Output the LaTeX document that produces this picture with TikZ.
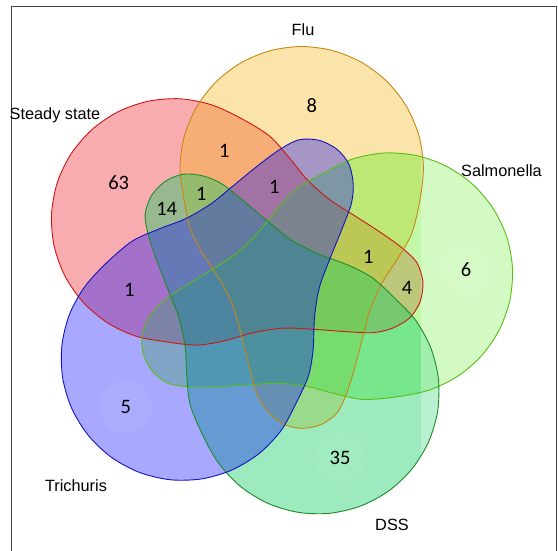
\documentclass[tikz,border=0pt]{standalone}
\usepackage{fontspec}
\setmainfont{Liberation Sans}
\newfontfamily\numfont{Carlito}
\definecolor{ssfill}{RGB}{240,20,30}
\definecolor{ssline}{RGB}{210,20,20}
\definecolor{flufill}{RGB}{245,180,10}
\definecolor{fluline}{RGB}{200,135,20}
\definecolor{salfill}{RGB}{100,240,40}
\definecolor{salline}{RGB}{90,190,20}
\definecolor{dssfill}{RGB}{20,205,100}
\definecolor{dssline}{RGB}{30,140,40}
\definecolor{trifill}{RGB}{0,0,255}
\definecolor{triline}{RGB}{20,20,190}
\definecolor{framecol}{RGB}{70,70,70}
\begin{document}
\begin{tikzpicture}[x=1pt,y=-1pt,
  petal/.style={insert path={plot[smooth cycle] coordinates {
   (28.5,-236.3) (60.0,-232.1) (89.4,-219.9) (114.6,-200.5) (133.9,-175.3)
   (146.1,-145.9) (150.2,-114.4) (146.6,-82.0) (138.5,-49.0) (123.5,-22.8)
   (108.5,0.5) (96.8,27.2) (90.1,52.2) (81.8,83.9) (73.5,110.5) (63.5,130.5)
   (46.8,142.2) (26.8,145.5) (8.5,140.5) (-6.5,127.2) (-16.5,110.5)
   (-23.2,87.2) (-31.5,53.9) (-39.9,23.9) (-53.2,-2.8) (-71.5,-30.5)
   (-83.2,-54.5) (-89.2,-83.5) (-93.2,-114.4) (-89.1,-145.9) (-76.9,-175.3)
   (-57.6,-200.5) (-32.4,-219.9) (-3.0,-232.1)}}},
  petalat/.style={shift={(273.2,282.8)}, rotate=#1},
  outline/.style={line width=0.9pt},
  glow/.style={fill=white, fill opacity=0.06},
  lab/.style={font=\fontsize{16.3}{19}\selectfont, text=black, inner sep=0pt},
  num/.style={font=\numfont\fontsize{20.5}{24}\selectfont, text=black, inner sep=0pt},
]
\useasboundingbox (0,0) rectangle (558,550);
\clip (0,0) rectangle (558,550);
\fill[white] (0,0) rectangle (558,550);

% fills, in drawing order
\begin{scope}[petalat=72]  \fill[ssfill, fill opacity=0.35, petal]; \end{scope}
\begin{scope}[petalat=0]   \fill[flufill, fill opacity=0.35, petal]; \end{scope}
\begin{scope}[petalat=288] \fill[salfill, fill opacity=0.40, petal]; \end{scope}
\begin{scope}[petalat=216] \fill[dssfill, fill opacity=0.42, petal]; \end{scope}
\begin{scope}[petalat=144] \fill[trifill, fill opacity=0.34, petal]; \end{scope}

% paler strip right of x=421
\begin{scope}
  \clip (421,0) rectangle (560,560);
  \begin{scope}[petalat=288] \fill[white, fill opacity=0.3, petal]; \end{scope}
  \begin{scope}[petalat=216]
    \clip[petal];
    \begin{scope}[rotate=72]
      \fill[white, fill opacity=0.3, even odd rule, petal] (-600,-600) rectangle (600,600);
    \end{scope}
  \end{scope}
\end{scope}

% faint glows behind some counts
\fill[glow] (125.7,406.7) circle (26);
\fill[glow] (340,457.7) circle (26);
\fill[glow] (466,270) circle (26);

% outlines
\begin{scope}[petalat=72]  \draw[ssline, outline, petal]; \end{scope}
\begin{scope}[petalat=0]   \draw[fluline, outline, petal]; \end{scope}
\begin{scope}[petalat=288] \draw[salline, outline, petal]; \end{scope}
\begin{scope}[petalat=216] \draw[dssline, outline, petal]; \end{scope}
\begin{scope}[petalat=144] \draw[triline, outline, petal]; \end{scope}

% frame
\draw[framecol, line width=0.9pt] (11.4,6.7) rectangle (556,600);

% set labels
\node[lab] (lss)  at (55,115)    {Steady state};
\node[lab] (lflu) at (303,29.5)  {Flu};
\node[lab] (lsal) at (501.5,171) {Salmonella};
\node[lab] (ltri) at (76,486)    {Trichuris};
\node[lab] (ldss) at (392,524.5) {DSS};

% counts
\node[num] (n63)  at (118.7,182.7) {63};
\node[num] (n8)   at (311.7,105.7) {8};
\node[num] (n6)   at (466,270)     {6};
\node[num] (n35)  at (340,457.7)   {35};
\node[num] (n5)   at (125.7,406.7) {5};
\node[num] (nsf)  at (224.3,151)   {1};
\node[num] (nsft) at (274.3,186.7) {1};
\node[num] (nsfd) at (201.3,193.8) {1};
\node[num] (n14)  at (166.7,209.3) {14};
\node[num] (nsfs) at (368.3,256.7) {1};
\node[num] (n4)   at (407,288.3)   {4};
\node[num] (nst)  at (129.3,289.7) {1};
\end{tikzpicture}
\end{document}
